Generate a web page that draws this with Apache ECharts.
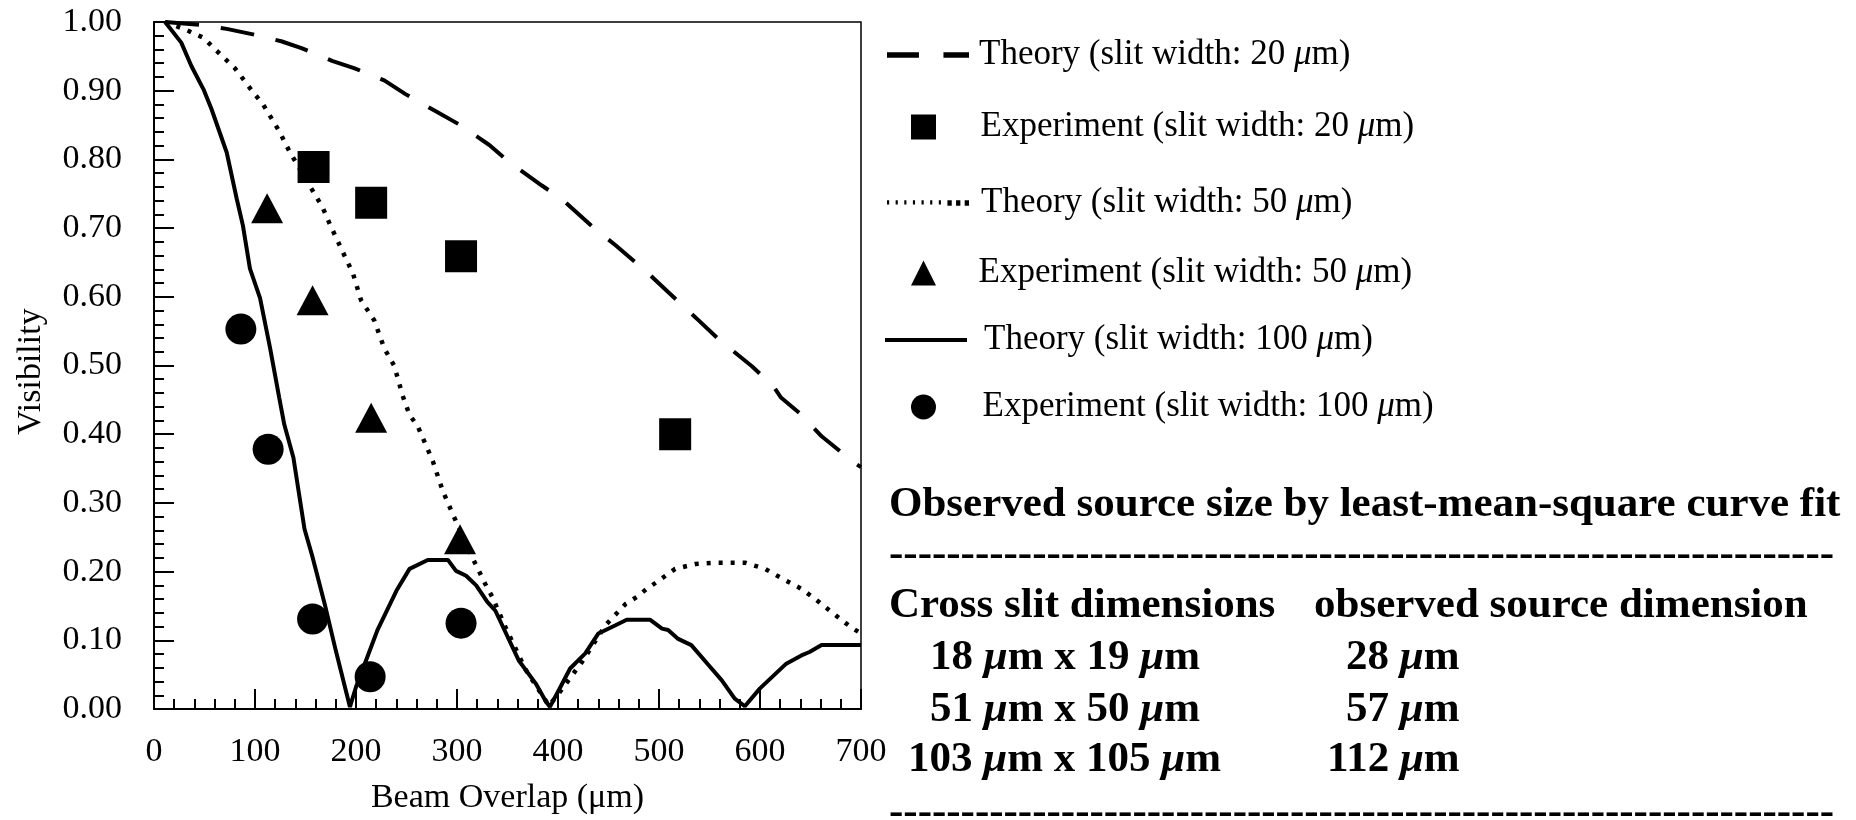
<!DOCTYPE html>
<html>
<head>
<meta charset="utf-8">
<script src="https://cdn.jsdelivr.net/npm/echarts@6/dist/echarts.min.js"></script>
<style>
html,body{margin:0;padding:0;background:#fff;}
#chart{width:1856px;height:820px;}
</style>
</head>
<body>
<div id="chart"></div>
<script>
// ---------- data ----------
const seriesNames = [
  'Theory (slit width: 20 μm)',
  'Experiment (slit width: 20 μm)',
  'Theory (slit width: 50 μm)',
  'Experiment (slit width: 50 μm)',
  'Theory (slit width: 100 μm)',
  'Experiment (slit width: 100 μm)'
];

// theory curves: [beam overlap (μm), visibility]
const theory20 = [[11,1.0],[45,0.996],[72,0.990],[98,0.982],[126,0.972],[146,0.962],[177,0.943],[198,0.933],
  [228,0.915],[249,0.895],[279,0.870],[302,0.851],[332,0.821],[351,0.797],[384,0.762],[404,0.742],[435,0.701],
  [457,0.675],[488,0.636],[509,0.607],[539,0.566],[560,0.537],[592,0.499],[613,0.470],[621,0.453],[639,0.431],
  [661,0.397],[692,0.360],[700,0.352]];

const theory50 = [[11,1.0],[31,0.989],[49,0.977],[60,0.961],[80,0.933],[98,0.898],[108,0.880],[124,0.841],
  [134,0.812],[154,0.762],[167,0.730],[174,0.706],[187,0.665],[197,0.634],[205,0.595],[218,0.566],[228,0.525],
  [238,0.499],[246,0.457],[253,0.428],[261,0.412],[276,0.361],[286,0.317],[296,0.283],[315,0.221],[328,0.182],
  [335,0.163],[348,0.119],[368,0.057],[391,0.005],[401,0.023],[424,0.069],[447,0.122],[467,0.153],[478,0.163],
  [488,0.175],[498,0.185],[516,0.204],[536,0.211],[556,0.213],[585,0.213],[605,0.204],[623,0.189],[641,0.175],
  [652,0.163],[671,0.141],[690,0.119],[700,0.110]];

const theory100 = [[11,1.0],[27,0.970],[37,0.936],[49,0.902],[57,0.873],[72,0.810],[82,0.742],[88,0.704],
  [95,0.641],[105,0.598],[115,0.525],[124,0.453],[129,0.414],[138,0.366],[149,0.262],[157,0.221],[169,0.153],
  [180,0.085],[194,0.003],[200,0.032],[210,0.071],[221,0.114],[240,0.172],[253,0.204],[271,0.217],[291,0.217],
  [299,0.201],[309,0.194],[319,0.180],[330,0.156],[338,0.143],[361,0.071],[378,0.037],[388,0.011],[392,0.003],
  [401,0.028],[412,0.059],[427,0.081],[440,0.110],[457,0.122],[468,0.130],[491,0.130],[503,0.117],[509,0.115],
  [519,0.102],[532,0.093],[549,0.064],[562,0.042],[575,0.015],[585,0.004],[600,0.030],[626,0.066],[641,0.078],
  [649,0.083],[661,0.093],[694,0.093],[700,0.093]];

// experimental points
const exp20  = [[158,0.789],[215,0.737],[304,0.659],[516,0.400]];
const exp50  = [[112,0.729],[157,0.595],[215,0.424],[303,0.247]];
const exp100 = [[86,0.553],[113,0.378],[157,0.131],[214,0.047],[304,0.125]];

// axes
const xAxisTitle = 'Beam Overlap (μm)';
const yAxisTitle = 'Visibility';

// side table
const tableTitle = 'Observed source size by least-mean-square curve fit';
const tableHeader = ['Cross slit dimensions', 'observed source dimension'];
const tableRows = [
  ['18 μm x 19 μm', '28 μm'],
  ['51 μm x 50 μm', '57 μm'],
  ['103 μm x 105 μm', '112 μm']
];
const separatorText = '------------------------------------------------------------------';

// ---------- chart ----------
const FONT = '"Liberation Serif", "Times New Roman", Times, serif';
const mu = s => s.replace(/μ/g, '{i|μ}');

const chart = echarts.init(document.getElementById('chart'), null, {renderer: 'canvas'});

// legend glyphs (shapes only, sized by the legend box)
const dotPath = (() => {
  let p = 'path://';
  for (let k = 0; k < 10; k++) {
    const x = k * 8, w = k < 7 ? 2 : 4, h = k < 7 ? 4 : 5;
    p += 'M' + x + ',0H' + (x + w) + 'V' + h + 'H' + x + 'Z';
  }
  return p;
})();
const legendIcons = [
  'path://M3,0H33V5H3Z M56,0H80V5H56Z',
  'path://M0,0H1V1H0Z',
  dotPath,
  'path://M0.5,0L1,1L0,1Z',
  'path://M0,0H82V4H0Z',
  'path://M0,0.5A0.5,0.5,0,1,1,1,0.5A0.5,0.5,0,1,1,0,0.5Z'
];
const legendRowCenters = [50, 122, 198, 268, 335, 402];
const legendLeft = [882, 906, 882, 906, 880, 906];
const legendTextPad = [5, 11, 7, 9, 12, 13];

const legends = seriesNames.map((n, k) => ({
  orient: 'vertical', left: legendLeft[k], top: legendRowCenters[k] - 18,
  itemWidth: 82, itemHeight: 25, itemGap: 0,
  data: [{name: n, icon: legendIcons[k]}],
  itemStyle: {borderWidth: 0, color: '#000'},
  formatter: name => mu(name),
  textStyle: {
    fontFamily: FONT, fontSize: 35, color: '#000', lineHeight: 36, padding: [0, 0, 0, legendTextPad[k]],
    rich: {i: {fontFamily: FONT, fontSize: 35, fontStyle: 'italic', color: '#000'}}
  },
  selectedMode: false
}));

const boldRich = {i: {fontFamily: FONT, fontSize: 43, fontWeight: 'bold', fontStyle: 'italic', fill: '#000'}};
function tableText(str, x, y) {
  return {
    type: 'text', x: x, y: y, silent: true,
    style: {
      text: mu(str), rich: boldRich,
      fontFamily: FONT, fontSize: 43, fontWeight: 'bold', fill: '#000',
      align: 'left', verticalAlign: 'middle'
    }
  };
}
const graphics = [
  tableText(tableTitle, 889, 505),
  tableText(separatorText, 889, 555),
  tableText(tableHeader[0], 889, 606),
  tableText(tableHeader[1], 1314, 606),
  tableText(tableRows[0][0], 930, 658),
  tableText(tableRows[0][1], 1346, 658),
  tableText(tableRows[1][0], 930, 710),
  tableText(tableRows[1][1], 1346, 710),
  tableText(tableRows[2][0], 908, 760),
  tableText(tableRows[2][1], 1327, 760),
  tableText(separatorText, 889, 813)
];

const option = {
  backgroundColor: '#fff',
  animation: false,
  textStyle: {fontFamily: FONT, color: '#000'},
  grid: {left: 154, top: 22, width: 707, height: 690, show: true, borderColor: '#000', borderWidth: 1.5, containLabel: false},
  legend: legends,
  xAxis: {
    type: 'value', min: 0, max: 700, interval: 100,
    name: xAxisTitle, nameLocation: 'middle', nameGap: 72,
    nameTextStyle: {fontFamily: FONT, fontSize: 34, color: '#000',
      rich: {i: {fontFamily: FONT, fontSize: 34, fontStyle: 'italic', color: '#000'}}},
    axisLine: {show: true, lineStyle: {color: '#000', width: 2}},
    axisTick: {show: true, inside: true, length: 20, lineStyle: {color: '#000', width: 2}},
    minorTick: {show: true, splitNumber: 5, length: 10, lineStyle: {color: '#000', width: 2}},
    splitLine: {show: false},
    axisLabel: {fontFamily: FONT, fontSize: 34, color: '#000', margin: 26}
  },
  yAxis: {
    type: 'value', min: 0, max: 1, interval: 0.1,
    name: yAxisTitle, nameLocation: 'middle', nameGap: 106,
    nameTextStyle: {fontFamily: FONT, fontSize: 34, color: '#000', padding: [0, 12, 0, 0]},
    axisLine: {show: true, lineStyle: {color: '#000', width: 2}},
    axisTick: {show: true, inside: true, length: 20, lineStyle: {color: '#000', width: 2}},
    minorTick: {show: true, splitNumber: 5, length: 10, lineStyle: {color: '#000', width: 2}},
    splitLine: {show: false},
    axisLabel: {fontFamily: FONT, fontSize: 34, color: '#000', margin: 32, formatter: v => v.toFixed(2)}
  },
  series: [
    {name: seriesNames[0], type: 'line', data: theory20, symbol: 'none', z: 3,
     lineStyle: {color: '#000', width: 4, type: [34, 22]}, itemStyle: {color: '#000'}},
    {name: seriesNames[1], type: 'scatter', data: exp20, symbol: 'rect', symbolSize: 32, z: 5,
     itemStyle: {color: '#000', opacity: 1}},
    {name: seriesNames[2], type: 'line', data: theory50, symbol: 'none', z: 3,
     lineStyle: {color: '#000', width: 4.5, type: [4, 8]}, itemStyle: {color: '#000'}},
    {name: seriesNames[3], type: 'scatter', data: exp50, symbol: 'triangle', symbolSize: [32, 30], z: 5,
     itemStyle: {color: '#000', opacity: 1}},
    {name: seriesNames[4], type: 'line', data: theory100, symbol: 'none', z: 3,
     lineStyle: {color: '#000', width: 4, type: 'solid'}, itemStyle: {color: '#000'}},
    {name: seriesNames[5], type: 'scatter', data: exp100, symbol: 'circle', symbolSize: 31, z: 5,
     itemStyle: {color: '#000', opacity: 1}}
  ],
  graphic: graphics
};
chart.setOption(option);
</script>
</body>
</html>
